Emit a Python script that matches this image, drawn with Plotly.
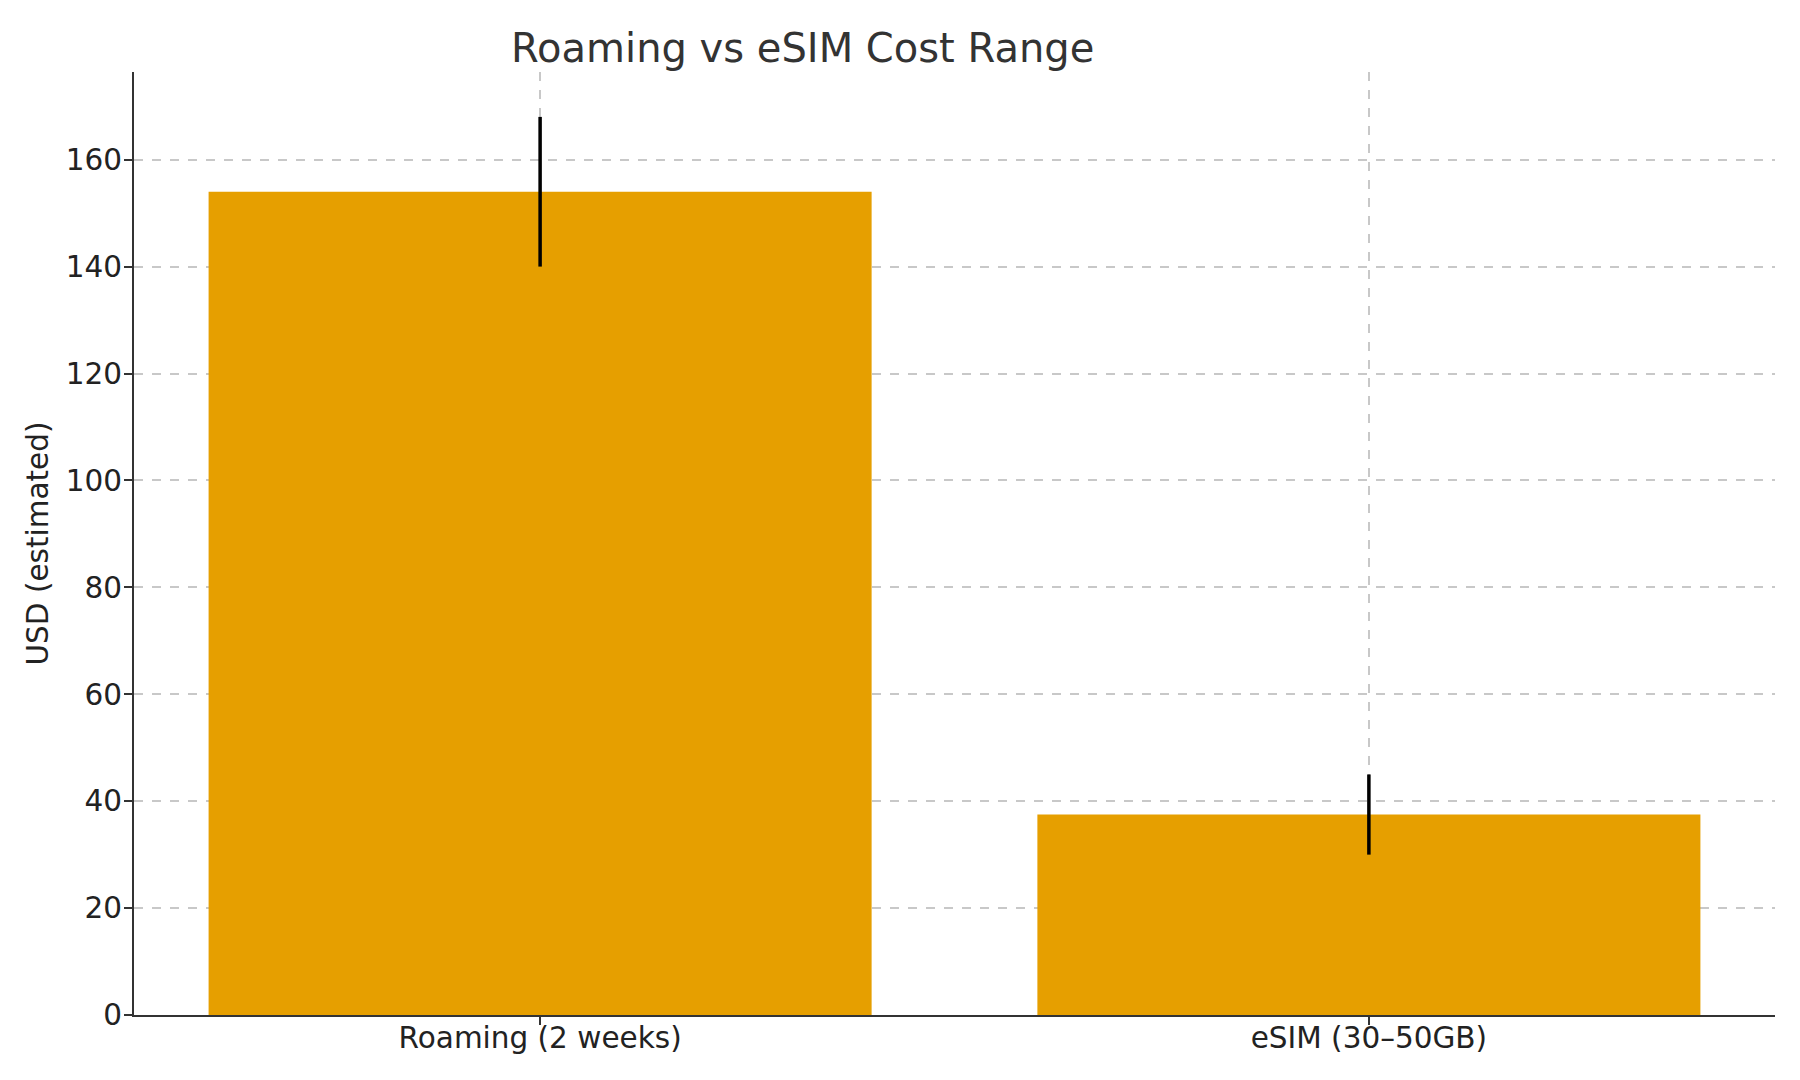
import plotly.graph_objects as go

# data
categories = ["Roaming (2 weeks)", "eSIM (30–50GB)"]
mid_cost = [154, 37.5]
err_half = [14, 7.5]

bar_color = "#E69F00"
font_family = "DejaVu Sans"

fig = go.Figure()
fig.add_trace(go.Bar(
    x=categories,
    y=mid_cost,
    marker_color=bar_color,
    marker_line_width=0,
    width=0.8,
    error_y=dict(type="data", array=err_half, visible=True,
                 color="black", thickness=3.5, width=0),
))

fig.update_layout(
    width=1800, height=1080,
    paper_bgcolor="white", plot_bgcolor="white",
    font=dict(family=font_family, size=29.5, color="#222"),
    margin=dict(l=126, r=33, t=64, b=73),
    showlegend=False,
    title=dict(text="Roaming vs eSIM Cost Range", x=0.4415, xanchor="center",
               y=0.963, yanchor="middle",
               font=dict(family=font_family, size=40, color="#333")),
)

fig.update_xaxes(
    range=[-0.49, 1.49],
    showline=True, linecolor="#333", linewidth=2,
    ticks="outside", ticklen=8, tickcolor="#333", tickwidth=2,
    ticklabelstandoff=-12,
    showgrid=True, gridcolor="#c8c8c8", griddash="dash", gridwidth=1.5,
)
fig.update_yaxes(
    range=[0, 176.4],
    title=dict(text="USD (estimated)", standoff=8, font=dict(size=29.5)),
    tickvals=[0, 20, 40, 60, 80, 100, 120, 140, 160],
    showline=True, linecolor="#333", linewidth=2,
    ticks="outside", ticklen=8, tickcolor="#333", tickwidth=2,
    ticklabelstandoff=-4,
    showgrid=True, gridcolor="#c8c8c8", griddash="dash", gridwidth=1.5,
    zeroline=False,
)

fig.write_html("out.html")
